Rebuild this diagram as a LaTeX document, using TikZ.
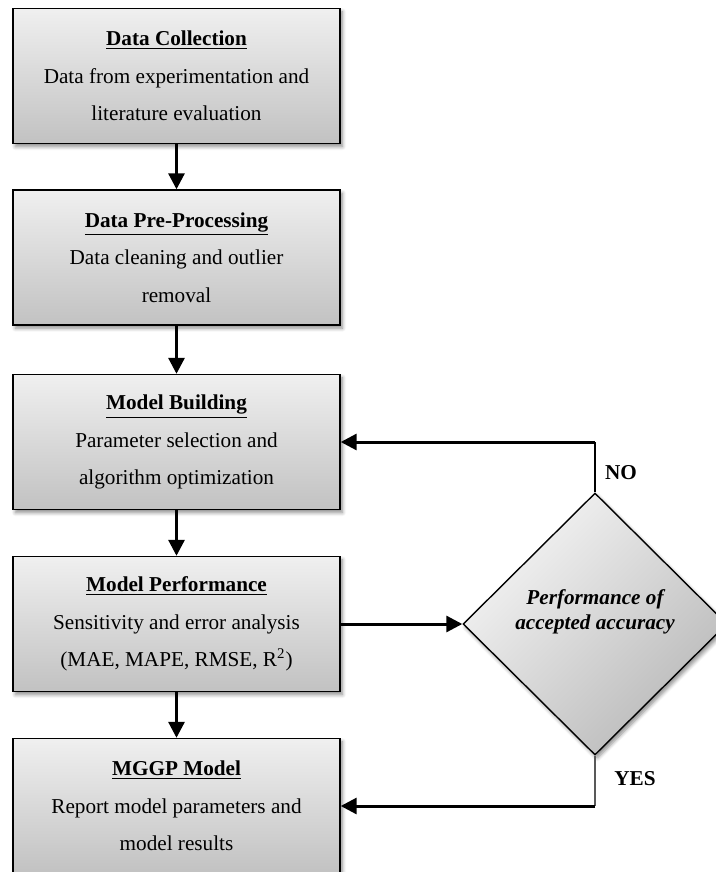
\documentclass[tikz,border=0pt]{standalone}
\usepackage{fontspec}
\setmainfont{Liberation Serif}
\usetikzlibrary{shapes.geometric,arrows.meta,shadows.blur}

\begin{document}
\begin{tikzpicture}[x=0.5pt, y=-0.5pt,
    stage/.style={rectangle, draw, line width=0.7pt, minimum width=163.5pt, minimum height=67.5pt, align=center, top color=gray!12, bottom color=gray!48, blur shadow={shadow xshift=1.2pt, shadow yshift=-1.6pt, shadow blur steps=6, shadow opacity=45}, font=\fontsize{10.6}{18.75}\selectfont},
    decision/.style={diamond, draw, line width=0.7pt, minimum width=132pt, minimum height=131pt, inner sep=0pt, top color=gray!8, bottom color=gray!55, shading angle=45, blur shadow={shadow xshift=1.2pt, shadow yshift=-1.6pt, shadow blur steps=6, shadow opacity=45}},
    arrow/.style={-{Triangle[length=8pt,width=8pt]}, line width=1.5pt},
    branch/.style={line width=0.6pt},
    answer/.style={font=\fontsize{10.6}{12}\selectfont\bfseries}
]
\useasboundingbox (0,0) rectangle (716,872);

% Main column
\node[stage] (collect) at (176.5,76) {\underline{\textbf{Data Collection}}\\Data from experimentation and\\literature evaluation};
\node[stage] (prep) at (176.5,257.5) {\underline{\textbf{Data Pre-Processing}}\\Data cleaning and outlier\\removal};
\node[stage] (build) at (176.5,442) {\underline{\textbf{Model Building}}\\Parameter selection and\\algorithm optimization};
\node[stage] (perf) at (176.5,624) {\underline{\textbf{Model Performance}}\\Sensitivity and error analysis\\(MAE, MAPE, RMSE, R\textsuperscript{2})};
\node[stage] (mggp) at (176.5,806) {\underline{\textbf{MGGP Model}}\\Report model parameters and\\model results};

% Decision
\node[decision, label={[font=\fontsize{10.6}{12.5}\selectfont\bfseries\itshape, align=center, yshift=6pt]center:Performance of\\accepted accuracy}] (dec) at (595,624) {};

% Arrows
\draw[arrow] (collect) -- (prep);
\draw[arrow] (prep) -- (build);
\draw[arrow] (build) -- (perf);
\draw[arrow] (perf) -- (mggp);
\draw[arrow] (perf) -- (dec);

% NO loop back
\coordinate (nocorner) at (dec.north |- build.east);
\draw[branch] (dec.north) -- (nocorner);
\draw[arrow] (nocorner) -- (build.east);
\node[answer] (no) at (621,473) {NO};

% YES to final model
\coordinate (yescorner) at (dec.south |- mggp.east);
\draw[branch, gray!70!black] (dec.south) -- (yescorner);
\draw[arrow] (yescorner) -- (mggp.east);
\node[answer] (yes) at (635,779) {YES};

\end{tikzpicture}
\end{document}
